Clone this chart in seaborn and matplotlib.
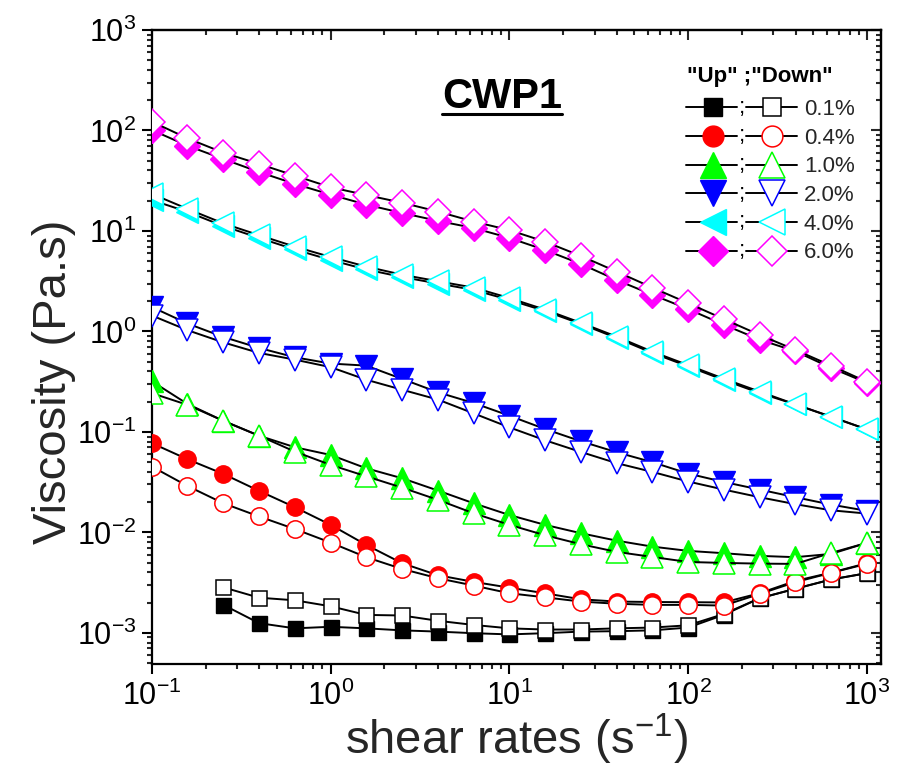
import numpy as np
import pandas as pd
import matplotlib
matplotlib.use("Agg")
import matplotlib.pyplot as plt
import seaborn as sns
from matplotlib.lines import Line2D
from matplotlib.text import Text
from matplotlib.legend_handler import HandlerBase
from matplotlib.ticker import FixedLocator, NullFormatter, LogFormatterSciNotation

# ---------------- data ----------------
shear_rate = [0.1, 0.158, 0.251, 0.398, 0.631, 1.0, 1.58, 2.51, 3.98, 6.31,
              10, 15.8, 25.1, 39.8, 63.1, 100, 158, 251, 398, 631, 1000]

concentrations = ["0.1%", "0.4%", "1.0%", "2.0%", "4.0%", "6.0%"]
colors = ["#000000", "#ff0000", "#00ff00", "#0000ff", "#00ffff", "#ff00ff"]
markers = ["s", "o", "^", "v", "<", "D"]
marker_sizes = [10.8, 12.5, 16.0, 16.0, 16.0, 13.0]

x_major_ticks = [0.1, 1, 10, 100, 1000]
y_major_ticks = [1e-3, 1e-2, 1e-1, 1, 10, 100, 1000]

nan = np.nan
up_01 = [nan, nan, 0.00190, 0.00125, 0.00111, 0.00115, 0.00111, 0.00106, 0.00103, 0.000993,
         0.000966, 0.000993, 0.00103, 0.00104, 0.00106, 0.00113, 0.00151, 0.00221, 0.00275, 0.00340, 0.00393]
down_01 = [nan, nan, 0.00284, 0.00224, 0.00211, 0.00184, 0.00151, 0.00149, 0.00132, 0.00120,
           0.00111, 0.00108, 0.00108, 0.00111, 0.00113, 0.00119, 0.00154, 0.00221, 0.00275, 0.00340, 0.00393]
up_04 = [0.0773, 0.0535, 0.0382, 0.0259, 0.0178, 0.0119, 0.00752, 0.00494, 0.00375, 0.00322,
         0.00282, 0.00248, 0.00216, 0.00205, 0.00203, 0.00202, 0.00201, 0.00248, 0.00329, 0.00398, 0.00494]
down_04 = [0.0452, 0.0290, 0.0195, 0.0144, 0.0108, 0.00792, 0.00567, 0.00433, 0.00350, 0.00296,
           0.00248, 0.00226, 0.00205, 0.00195, 0.00190, 0.00190, 0.00187, 0.00244, 0.00320, 0.00396, 0.00487]
up_10 = [0.319, 0.190, 0.129, 0.0916, 0.0704, 0.0590, 0.0435, 0.0346, 0.0261, 0.0195,
         0.0149, 0.0119, 0.00982, 0.00828, 0.00722, 0.00655, 0.00621, 0.00584, 0.00567, 0.00611, 0.00787]
down_10 = [0.243, 0.186, 0.129, 0.0916, 0.0637, 0.0470, 0.0362, 0.0279, 0.0211, 0.0155,
           0.0119, 0.00938, 0.00763, 0.00640, 0.00570, 0.00508, 0.00497, 0.00489, 0.00486, 0.00625, 0.00787]
up_20 = [1.75, 1.20, 0.881, 0.685, 0.553, 0.479, 0.457, 0.337, 0.248, 0.194,
         0.145, 0.107, 0.0808, 0.0628, 0.0500, 0.0385, 0.0318, 0.0267, 0.0224, 0.0189, 0.0164]
down_20 = [1.44, 1.03, 0.778, 0.611, 0.524, 0.441, 0.331, 0.263, 0.210, 0.153,
           0.111, 0.0827, 0.0632, 0.0489, 0.0400, 0.0321, 0.0267, 0.0224, 0.0191, 0.0166, 0.0154]
up_40 = [20.3, 15.5, 11.2, 8.52, 6.54, 5.14, 4.14, 3.48, 3.00, 2.59,
         2.06, 1.60, 1.19, 0.861, 0.611, 0.449, 0.329, 0.244, 0.188, 0.141, 0.106]
down_40 = [23.4, 16.6, 11.9, 9.07, 6.98, 5.51, 4.42, 3.67, 3.16, 2.73,
           2.15, 1.65, 1.22, 0.888, 0.629, 0.462, 0.339, 0.252, 0.188, 0.142, 0.106]
up_60 = [101, 70.6, 52.0, 38.6, 29.4, 23.0, 18.3, 15.1, 12.6, 10.7,
         8.52, 6.47, 4.70, 3.25, 2.32, 1.67, 1.17, 0.829, 0.635, 0.434, 0.308]
down_60 = [122.4, 83.6, 60.1, 46.4, 35.5, 27.2, 22.8, 19.1, 15.6, 12.4,
           10.2, 7.83, 5.64, 3.94, 2.73, 1.91, 1.33, 0.923, 0.655, 0.457, 0.315]

up_series = [up_01, up_04, up_10, up_20, up_40, up_60]
down_series = [down_01, down_04, down_10, down_20, down_40, down_60]

# ---------------- style ----------------
sns.set_style("ticks")
plt.rcParams["font.family"] = ["Liberation Sans", "DejaVu Sans"]
plt.rcParams["mathtext.fontset"] = "custom"
plt.rcParams["mathtext.rm"] = "Liberation Sans"
plt.rcParams["mathtext.it"] = "Liberation Sans:italic"
plt.rcParams["mathtext.bf"] = "Liberation Sans:bold"

fig = plt.figure(figsize=(9.04, 7.77), dpi=100)
ax = fig.add_axes([0.168, 0.1454, 0.8066, 0.816])

LW = 1.4
handles = []
for conc, col, mk, ms, up, down in zip(concentrations, colors, markers, marker_sizes,
                                         up_series, down_series):
    df = pd.DataFrame({"rate": shear_rate, "up": up, "down": down})
    d_up = df.dropna(subset=["up"])
    d_dn = df.dropna(subset=["down"])
    sns.lineplot(data=d_up, x="rate", y="up", ax=ax, color="black", linewidth=LW,
                 marker=mk, markersize=ms, markerfacecolor=col, markeredgecolor=col,
                 markeredgewidth=1.0, estimator=None, sort=False, legend=False, zorder=3)
    sns.lineplot(data=d_dn, x="rate", y="down", ax=ax, color="black", linewidth=LW,
                 marker=mk, markersize=ms, markerfacecolor="white", markeredgecolor=col,
                 markeredgewidth=1.1, estimator=None, sort=False, legend=False, zorder=4)
    h_up = Line2D([], [], marker=mk, markersize=ms, markerfacecolor=col,
                  markeredgecolor=col, markeredgewidth=1.0)
    h_dn = Line2D([], [], marker=mk, markersize=ms, markerfacecolor="white",
                  markeredgecolor=col, markeredgewidth=1.1)
    handles.append((h_up, h_dn))

ax.set_xscale("log")
ax.set_yscale("log")
XLIM = (0.1, 1200)
YLIM = (4.9e-4, 1000)
ax.set_xlim(*XLIM)
ax.set_ylim(*YLIM)


def minor_ticks(lo, hi):
    out = []
    for e in range(-5, 5):
        for s in range(2, 10):
            v = s * 10.0 ** e
            if lo <= v <= hi:
                out.append(v)
    return out


x_minor = minor_ticks(*XLIM)
y_minor = minor_ticks(*YLIM)

ax.xaxis.set_major_locator(FixedLocator(x_major_ticks))
ax.yaxis.set_major_locator(FixedLocator(y_major_ticks))
ax.xaxis.set_minor_locator(FixedLocator(x_minor))
ax.yaxis.set_minor_locator(FixedLocator(y_minor))
ax.xaxis.set_major_formatter(LogFormatterSciNotation())
ax.yaxis.set_major_formatter(LogFormatterSciNotation())
ax.xaxis.set_minor_formatter(NullFormatter())
ax.yaxis.set_minor_formatter(NullFormatter())

for sp in ax.spines.values():
    sp.set_linewidth(1.6)
    sp.set_color("black")

ax.tick_params(which="major", direction="out", length=7, width=1.5, labelsize=22,
               colors="black", pad=4)
ax.tick_params(axis="x", which="major", pad=5)
ax.tick_params(which="minor", direction="out", length=3.6, width=1.5)

# mirrored inward ticks on top and right
secx = ax.secondary_xaxis("top")
secx.tick_params(which="major", direction="in", length=7, width=1.5, labeltop=False)
secx.tick_params(which="minor", direction="in", length=3.6, width=1.5)
secx.xaxis.set_major_locator(FixedLocator(x_major_ticks))
secx.xaxis.set_minor_locator(FixedLocator(x_minor))
secx.xaxis.set_major_formatter(NullFormatter())
secx.xaxis.set_minor_formatter(NullFormatter())
secx.spines["top"].set_linewidth(1.6)

secy = ax.secondary_yaxis("right")
secy.tick_params(which="major", direction="in", length=7, width=1.5, labelright=False)
secy.tick_params(which="minor", direction="in", length=3.6, width=1.5)
secy.yaxis.set_major_locator(FixedLocator(y_major_ticks))
secy.yaxis.set_minor_locator(FixedLocator(y_minor))
secy.yaxis.set_major_formatter(NullFormatter())
secy.yaxis.set_minor_formatter(NullFormatter())
secy.spines["right"].set_linewidth(1.6)

ax.set_xlabel("shear rates (s$^{-1}$)", fontsize=34, labelpad=0)
ax.set_ylabel("Viscosity (Pa.s)", fontsize=34)
ax.yaxis.set_label_coords(-0.104, 0.445)


# ---------------- legend ----------------
class UpDownHandler(HandlerBase):
    def create_artists(self, legend, orig_handle, xdescent, ydescent, width, height,
                       fontsize, trans):
        up, dn = orig_handle
        x0 = -xdescent
        y = height / 2.0 - ydescent
        arts = []
        arts.append(Line2D([x0, x0 + 0.46 * width], [y, y], color="black", lw=LW))
        arts.append(Line2D([x0 + 0.24 * width], [y], ls="none", marker=up.get_marker(),
                           markersize=up.get_markersize() * 1.2,
                           markerfacecolor=up.get_markerfacecolor(),
                           markeredgecolor=up.get_markeredgecolor(),
                           markeredgewidth=up.get_markeredgewidth()))
        arts.append(Text(x0 + 0.505 * width, y, ";", ha="center", va="center",
                         fontsize=fontsize, color="black"))
        arts.append(Line2D([x0 + 0.54 * width, x0 + width], [y, y], color="black", lw=LW))
        arts.append(Line2D([x0 + 0.77 * width], [y], ls="none", marker=dn.get_marker(),
                           markersize=dn.get_markersize() * 1.2,
                           markerfacecolor=dn.get_markerfacecolor(),
                           markeredgecolor=dn.get_markeredgecolor(),
                           markeredgewidth=dn.get_markeredgewidth()))
        for a in arts:
            a.set_transform(trans)
        return arts


leg = ax.legend(handles=handles, labels=concentrations,
                handler_map={tuple: UpDownHandler()},
                loc="upper left", bbox_to_anchor=(0.7325, 0.891),
                frameon=False, fontsize=16, handlelength=5.0, handletextpad=0.3,
                labelspacing=0.345, borderpad=0, borderaxespad=0)
ax.text(0.734, 0.926, '"Up" ;"Down"', transform=ax.transAxes, ha="left", va="center",
        fontsize=16, fontweight="bold", color="black")

# ---------------- title ----------------
t = ax.text(0.48, 0.894, "CWP1", transform=ax.transAxes, ha="center", va="center",
            fontsize=30, fontweight="bold", color="black")
fig.canvas.draw()
bb = t.get_window_extent()
inv = ax.transAxes.inverted()
(ux0, uy0), (ux1, _) = inv.transform([[bb.x0, bb.y0 + 3], [bb.x1, bb.y0 + 3]])
ax.add_line(Line2D([ux0, ux1], [uy0, uy0], transform=ax.transAxes, color="black",
                   lw=2.2, clip_on=False))

fig.savefig("out.png", dpi=100)
